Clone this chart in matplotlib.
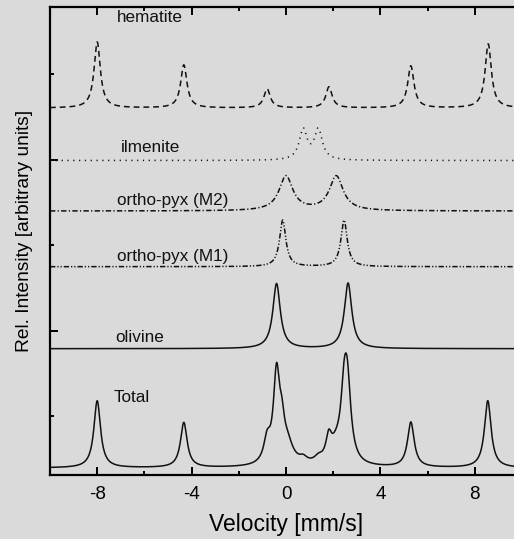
import matplotlib
matplotlib.use('Agg')
import matplotlib.pyplot as plt
from matplotlib.ticker import FixedLocator
import numpy as np

# peak parameters (velocity in mm/s, height in arbitrary units)
hematite_pos = [-8.0, -4.33, -0.8, 1.82, 5.29, 8.57]
hematite_amp = [66, 43, 19, 21, 42, 64]
hematite_hw = [0.16] * 6

ilmenite_pos = [0.73, 1.37]
ilmenite_amp = [30, 30]
ilmenite_hw = [0.2, 0.2]

opx_m2_pos = [0.0, 2.13]
opx_m2_amp = [34.5, 34.5]
opx_m2_hw = [0.35, 0.35]

opx_m1_pos = [-0.14, 2.46]
opx_m1_amp = [46.5, 46.5]
opx_m1_hw = [0.16, 0.16]

olivine_pos = [-0.4, 2.63]
olivine_amp = [65, 65.5]
olivine_hw = [0.19, 0.19]

# the summed spectrum, read as its own set of lines
total_pos = [-8.0, -4.33, -0.8, -0.4, -0.18, 0.05, 0.73, 1.37, 1.81, 2.13, 2.46, 2.6, 5.29, 8.55]
total_amp = [67, 45, 22, 88, 26, 20, 5, 5, 21, 16, 52, 72, 45, 67]
total_hw = [0.17, 0.17, 0.17, 0.16, 0.13, 0.3, 0.2, 0.2, 0.14, 0.35, 0.16, 0.18, 0.17, 0.17]

# vertical offsets of each trace
offsets = {'hematite': 367, 'ilmenite': 314.5, 'ortho-pyx (M2)': 264,
           'ortho-pyx (M1)': 208.3, 'olivine': 126.3, 'Total': 7}


def lorentz(v, pos, amp, hw):
    y = np.zeros_like(v)
    for p, a, w in zip(pos, amp, hw):
        y += a / (1.0 + ((v - p) / w) ** 2)
    return y


v = np.linspace(-10, 10, 2001)
hem = lorentz(v, hematite_pos, hematite_amp, hematite_hw)
ilm = lorentz(v, ilmenite_pos, ilmenite_amp, ilmenite_hw)
m2 = lorentz(v, opx_m2_pos, opx_m2_amp, opx_m2_hw)
m1 = lorentz(v, opx_m1_pos, opx_m1_amp, opx_m1_hw)
oli = lorentz(v, olivine_pos, olivine_amp, olivine_hw)
tot = lorentz(v, total_pos, total_amp, total_hw)

plt.rcParams['font.family'] = ['Liberation Sans', 'DejaVu Sans']
bg = '#dadada'
fig = plt.figure(figsize=(5.14, 5.39), dpi=100, facecolor=bg)
ax = fig.add_axes([50 / 514, 64 / 539, 472 / 514, 468 / 539], facecolor=bg)

lc = '#111111'
ax.plot(v, hem + offsets['hematite'], color=lc, lw=1.1, dashes=(3.8, 2.6))
ax.plot(v, ilm + offsets['ilmenite'], color=lc, lw=1.1, dashes=(0.8, 3.0))
ax.plot(v, m2 + offsets['ortho-pyx (M2)'], color=lc, lw=1.1, dashes=(3.5, 1.5, 0.8, 1.5))
ax.plot(v, m1 + offsets['ortho-pyx (M1)'], color=lc, lw=1.1, dashes=(3.5, 1.3, 0.8, 1.3, 0.8, 1.3))
ax.plot(v, oli + offsets['olivine'], color=lc, lw=1.1)
ax.plot(v, tot + offsets['Total'], color=lc, lw=1.1)

labels = [('hematite', -7.15, 457), ('ilmenite', -7.0, 327),
          ('ortho-pyx (M2)', -7.16, 275), ('ortho-pyx (M1)', -7.16, 219),
          ('olivine', -7.23, 137), ('Total', -7.3, 78)]
for txt, x, y in labels:
    ax.text(x, y, txt, fontsize=12.3, ha='left', va='center', color='#111111')

ax.set_xlim(-10, 10)
ax.set_ylim(0, 468)
ax.set_xticks([-8, -4, 0, 4, 8])
ax.set_xticklabels(['-8', '-4', '0', '4', '8'])
ax.xaxis.set_minor_locator(FixedLocator([-6, -2, 2, 6]))
ax.set_yticks([144, 315])
ax.yaxis.set_minor_locator(FixedLocator([59, 230, 401]))
ax.set_yticklabels([])
ax.tick_params(which='both', direction='in', top=True, right=True, width=1.4,
               labelsize=13.5, pad=8)
ax.tick_params(which='major', length=6)
ax.tick_params(which='minor', length=3)
for s in ax.spines.values():
    s.set_linewidth(1.6)

ax.set_xlabel('Velocity [mm/s]', fontsize=16.5, labelpad=7)
ax.set_ylabel('Rel. Intensity [arbitrary units]', fontsize=13.8)
ax.yaxis.set_label_coords(-0.036, 0.521)

fig.savefig('out.png', dpi=100, facecolor=bg)
